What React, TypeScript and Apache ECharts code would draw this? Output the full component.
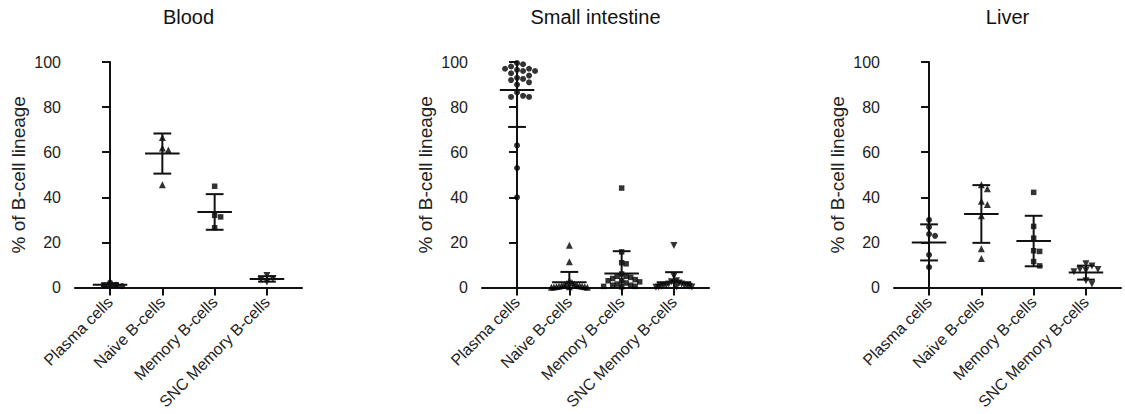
import React, { useEffect, useRef } from "react";
import * as echarts from "echarts";

const categories = ["Plasma cells", "Naive B-cells", "Memory B-cells", "SNC Memory B-cells"];
const panelTitles = ["Blood", "Small intestine", "Liver"];
const yTicks = [0, 20, 40, 60, 80, 100];

// Blood
const bloodPlasma = [2.2, 1.2, 0.8, 0.6];
const bloodNaive = [66.5, 61.9, 61.0, 45.6];
const bloodMemory = [44.9, 32.0, 31.3, 26.5];
const bloodSnc = [5.3, 4.0, 3.6, 2.4];
const bloodMean = [1.2, 59.4, 33.5, 3.8];
const bloodSd = [0.7, 8.9, 7.9, 1.2];

// Small intestine
const siPlasma = [99.5, 99, 98, 97, 97, 96.5, 96, 96, 95, 94, 93, 92.5, 92, 91, 90, 86.5, 85, 84.5, 84.5, 63, 53, 40];
const siNaive = [18.7, 11.4, 3.0, 2.2, 1.8, 1.5, 1.2, 1.0, 0.9, 0.8, 0.6, 0.5, 0.4, 0.3, 0.3, 0.2, 0.1, 0.1];
const siMemory = [44.1, 15.8, 11.0, 10.5, 6.0, 5.0, 5.0, 4.5, 4.0, 3.5, 3.0, 3.0, 2.5, 2.0, 1.5, 1.0, 1.0, 0.5, 0.5, 0.3];
const siSnc = [18.6, 5.0, 3.0, 2.5, 2.0, 2.0, 1.5, 1.5, 1.0, 1.0, 1.0, 0.8, 0.5, 0.5, 0.3, 0.2, 0.2, 0.1];
const siMean = [87.6, 2.3, 6.2, 2.3];
const siSd = [16.4, 4.6, 9.9, 4.5];

// Liver
const liverPlasma = [30.0, 26.8, 23.7, 22.9, 14.5, 9.0];
const liverNaive = [45.6, 43.8, 38.2, 36.8, 31.8, 17.2, 12.9];
const liverMemory = [42.2, 27.1, 21.9, 16.3, 16.0, 11.5, 9.6];
const liverSnc = [10.5, 9.5, 8.0, 8.0, 7.5, 7.0, 3.0, 1.5];
const liverMean = [20.0, 32.6, 20.6, 6.6];
const liverSd = [8.0, 12.8, 11.2, 3.1];

const panels = [
  { groups: [bloodPlasma, bloodNaive, bloodMemory, bloodSnc], mean: bloodMean, sd: bloodSd },
  { groups: [siPlasma, siNaive, siMemory, siSnc], mean: siMean, sd: siSd },
  { groups: [liverPlasma, liverNaive, liverMemory, liverSnc], mean: liverMean, sd: liverSd },
];

const gridLefts = [75, 482, 894];
const GRID_TOP = 62;
const GRID_H = 225.5;
const GRID_W = 227;
const X_MIN = -0.67;
const X_MAX = 3.67;
const FONT = "'Liberation Sans', Arial, Helvetica, sans-serif";
const symbols = ["circle", "triangle", "rect", "path://M0,0L2,0L1,1.8Z"];
const symbolSizes = [6, 7, 5.5, 7];

// beeswarm offsets (in x-axis units), computed in pixel space with box collision
function swarm(vals: number[]): number[] {
  const xPx = GRID_W / (X_MAX - X_MIN);
  const yPx = GRID_H / 100;
  const DX = 6;
  const DY = 6;
  const MAXW = 18;
  const placed: { x: number; y: number }[] = [];
  for (const v of vals) {
    const y = v * yPx;
    let best = 0;
    for (let k = 0; k < 400; k++) {
      const cand = k === 0 ? 0 : (k % 2 ? 1 : -1) * Math.ceil(k / 2) * 0.5;
      let ok = true;
      for (const p of placed) {
        if (Math.abs(p.x - cand) < DX && Math.abs(p.y - y) < DY) { ok = false; break; }
      }
      if (ok) { best = cand; break; }
    }
    placed.push({ x: best, y });
  }
  const maxAbs = Math.max(...placed.map((p) => Math.abs(p.x)), 0.0001);
  const k = maxAbs > MAXW ? MAXW / maxAbs : 1;
  return placed.map((p) => (p.x * k) / xPx);
}

export default function App() {
  const ref = useRef<HTMLDivElement>(null);
  useEffect(() => {
    if (!ref.current) return;
    const chart = echarts.init(ref.current, undefined, { renderer: "svg" });
    const grid: any[] = [];
    const xAxis: any[] = [];
    const yAxis: any[] = [];
    const series: any[] = [];
    const graphic: any[] = [];

    panels.forEach((panel, pi) => {
      grid.push({ left: gridLefts[pi], top: GRID_TOP, width: GRID_W, height: GRID_H });
      xAxis.push({
        type: "value",
        gridIndex: pi,
        min: X_MIN,
        max: X_MAX,
        splitLine: { show: false },
        axisLine: { show: true, onZero: false, lineStyle: { color: "#111", width: 2 } },
        axisTick: { show: true, customValues: [0, 1, 2, 3], length: 8, lineStyle: { color: "#111", width: 2 } },
        axisLabel: {
          customValues: [0, 1, 2, 3],
          rotate: 45,
          margin: 12,
          fontSize: 16,
          fontFamily: FONT,
          color: "#222",
          formatter: (v: number) => categories[Math.round(v)] ?? "",
        },
      });
      yAxis.push({
        type: "value",
        gridIndex: pi,
        min: yTicks[0],
        max: yTicks[yTicks.length - 1],
        interval: 20,
        name: "% of B-cell lineage",
        nameLocation: "middle",
        nameGap: 47,
        nameTextStyle: { fontSize: 19, fontFamily: FONT, color: "#222" },
        splitLine: { show: false },
        axisLine: { show: true, lineStyle: { color: "#111", width: 2 } },
        axisTick: { show: true, length: 8, lineStyle: { color: "#111", width: 2 } },
        axisLabel: { fontSize: 16, fontFamily: FONT, color: "#222", margin: 14 },
      });
      panel.groups.forEach((vals, ci) => {
        const offs = swarm(vals);
        series.push({
          type: "scatter",
          xAxisIndex: pi,
          yAxisIndex: pi,
          symbol: symbols[ci],
          symbolSize: symbolSizes[ci],
          itemStyle: { color: "#000" },
          data: vals.map((v, i) => [ci + offs[i], v]),
          z: 3,
        });
      });
      series.push({
        type: "custom",
        xAxisIndex: pi,
        yAxisIndex: pi,
        z: 4,
        encode: { x: 0, y: 1 },
        data: panel.mean.map((m, ci) => [ci, m, panel.sd[ci]]),
        renderItem: (params: any, api: any) => {
          const x = api.value(0);
          const m = api.value(1);
          const s = api.value(2);
          const hi = m + s;
          const lo = m - s;
          const top = Math.min(hi, 100);
          const bot = Math.max(lo, 0);
          const style = { stroke: "#111", lineWidth: 2 };
          const children: any[] = [];
          const pm1 = api.coord([x - 0.33, m]);
          const pm2 = api.coord([x + 0.33, m]);
          children.push({ type: "line", shape: { x1: pm1[0], y1: pm1[1], x2: pm2[0], y2: pm2[1] }, style });
          const pt = api.coord([x, top]);
          const pb = api.coord([x, bot]);
          children.push({ type: "line", shape: { x1: pt[0], y1: pt[1], x2: pb[0], y2: pb[1] }, style });
          if (hi <= 100) {
            const a = api.coord([x - 0.17, hi]);
            const b = api.coord([x + 0.17, hi]);
            children.push({ type: "line", shape: { x1: a[0], y1: a[1], x2: b[0], y2: b[1] }, style });
          }
          if (lo >= 0) {
            const a = api.coord([x - 0.17, lo]);
            const b = api.coord([x + 0.17, lo]);
            children.push({ type: "line", shape: { x1: a[0], y1: a[1], x2: b[0], y2: b[1] }, style });
          }
          return { type: "group", children };
        },
      });
      const cx = gridLefts[pi] + GRID_W * ((1.5 - X_MIN) / (X_MAX - X_MIN));
      graphic.push({
        type: "text",
        x: cx,
        y: 17,
        style: {
          text: panelTitles[pi],
          fontSize: 20,
          fontFamily: FONT,
          fill: "#111",
          align: "center",
          verticalAlign: "middle",
        },
      });
    });

    chart.setOption({
      animation: false,
      backgroundColor: "#fff",
      grid,
      xAxis,
      yAxis,
      series,
      graphic,
    });
    return () => chart.dispose();
  }, []);
  return (
    <div
      ref={ref}
      style={{ position: "fixed", left: 0, top: 0, width: 1125, height: 414 }}
    />
  );
}
